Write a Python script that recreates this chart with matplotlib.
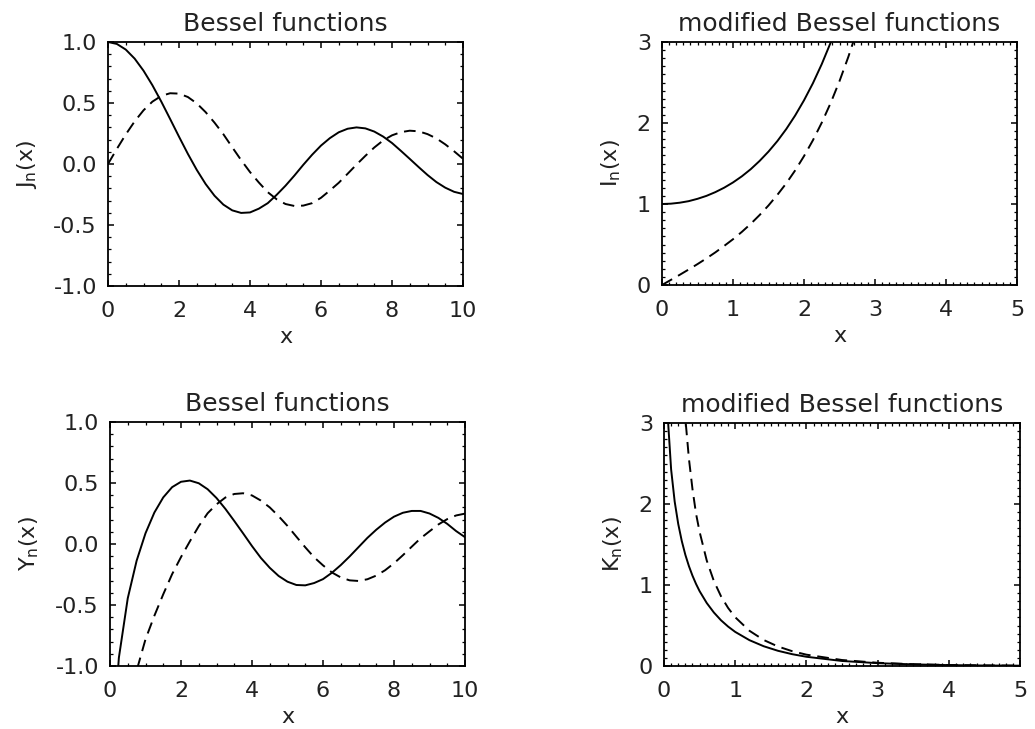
import matplotlib

matplotlib.use("Agg")
import matplotlib.pyplot as plt
from matplotlib.ticker import MultipleLocator

plt.rcParams["font.family"] = ["DejaVu Sans"]
plt.rcParams["mathtext.fontset"] = "dejavusans"

# Bessel J / Y
x_jy = [0.0, 0.25, 0.5, 0.75, 1.0, 1.25, 1.5, 1.75, 2.0, 2.25, 2.5, 2.75, 3.0, 3.25,
        3.5, 3.75, 4.0, 4.25, 4.5, 4.75, 5.0, 5.25, 5.5, 5.75, 6.0, 6.25, 6.5, 6.75,
        7.0, 7.25, 7.5, 7.75, 8.0, 8.25, 8.5, 8.75, 9.0, 9.25, 9.5, 9.75, 10.0]
j0 = [1.0, 0.984, 0.938, 0.864, 0.765, 0.646, 0.512, 0.369, 0.224, 0.083, -0.048,
      -0.164, -0.260, -0.333, -0.380, -0.401, -0.397, -0.366, -0.321, -0.253, -0.178,
      -0.095, -0.007, 0.076, 0.151, 0.212, 0.260, 0.289, 0.300, 0.292, 0.266, 0.225,
      0.172, 0.108, 0.042, -0.025, -0.090, -0.148, -0.194, -0.228, -0.246]
j1 = [0.0, 0.124, 0.242, 0.349, 0.440, 0.511, 0.558, 0.580, 0.577, 0.549, 0.497,
      0.425, 0.339, 0.244, 0.137, 0.032, -0.066, -0.152, -0.231, -0.289, -0.328,
      -0.344, -0.341, -0.321, -0.277, -0.217, -0.154, -0.080, -0.005, 0.067, 0.135,
      0.193, 0.235, 0.261, 0.273, 0.268, 0.245, 0.210, 0.161, 0.104, 0.043]

x_y0 = [0.1] + x_jy[1:]
y0 = [-1.534, -0.932, -0.445, -0.137, 0.088, 0.258, 0.382, 0.466, 0.510, 0.520,
      0.498, 0.449, 0.377, 0.288, 0.189, 0.087, -0.017, -0.114, -0.195, -0.262,
      -0.309, -0.336, -0.339, -0.320, -0.288, -0.236, -0.173, -0.102, -0.026, 0.050,
      0.117, 0.176, 0.224, 0.256, 0.271, 0.271, 0.250, 0.214, 0.165, 0.106, 0.056]
x_y1 = x_jy[2:]
y1 = [-1.471, -1.038, -0.781, -0.588, -0.412, -0.247, -0.107, 0.022, 0.146, 0.252,
      0.325, 0.381, 0.410, 0.416, 0.398, 0.356, 0.300, 0.228, 0.148, 0.060, -0.027,
      -0.109, -0.175, -0.233, -0.274, -0.298, -0.303, -0.289, -0.259, -0.215, -0.158,
      -0.092, -0.022, 0.047, 0.104, 0.160, 0.204, 0.234, 0.249]

# modified Bessel I / K
x_i = [0.0, 0.125, 0.25, 0.375, 0.5, 0.625, 0.75, 0.875, 1.0, 1.125, 1.25, 1.375,
       1.5, 1.625, 1.75, 1.875, 2.0, 2.125, 2.25, 2.375, 2.5, 2.625, 2.75]
i0 = [1.0, 1.004, 1.016, 1.035, 1.064, 1.100, 1.146, 1.201, 1.266, 1.342, 1.430,
      1.532, 1.647, 1.777, 1.925, 2.092, 2.280, 2.490, 2.727, 2.992, 3.290, 3.623, 3.99]
i1 = [0.0, 0.063, 0.126, 0.191, 0.258, 0.328, 0.402, 0.482, 0.565, 0.656, 0.755,
      0.864, 0.982, 1.113, 1.255, 1.414, 1.591, 1.786, 2.004, 2.246, 2.517, 2.818, 3.150]

x_k = [0.05, 0.1, 0.15, 0.2, 0.25, 0.3, 0.35, 0.4, 0.45, 0.5, 0.6, 0.7, 0.8, 0.9,
       1.0, 1.2, 1.4, 1.6, 1.8, 2.0, 2.5, 3.0, 3.5, 4.0, 4.5, 5.0]
k0 = [3.114, 2.427, 2.030, 1.753, 1.542, 1.372, 1.233, 1.115, 1.013, 0.924, 0.778,
      0.661, 0.565, 0.487, 0.421, 0.319, 0.244, 0.188, 0.146, 0.114, 0.062, 0.035,
      0.020, 0.011, 0.006, 0.004]
k1 = [19.91, 9.854, 6.477, 4.776, 3.747, 3.056, 2.559, 2.184, 1.880, 1.656, 1.303,
      1.050, 0.862, 0.717, 0.602, 0.435, 0.321, 0.241, 0.183, 0.140, 0.074, 0.040,
      0.022, 0.012, 0.007, 0.004]

W, H = 1035, 729
fig = plt.figure(figsize=(W / 100, H / 100), dpi=100)

txt = "#222222"


def panel(box, xs, ya, yb, xlim, ylim, xmaj, xmin, ymaj, ymin, ylab, title, yfmt):
    l, t, r, b = box
    ax = fig.add_axes([l / W, 1 - b / H, (r - l) / W, (b - t) / H])
    ax.plot(xs[0], ya, color="black", lw=1.4)
    ax.plot(xs[1], yb, color="black", lw=1.4, linestyle=(0, (6, 3.5)))
    ax.set_xlim(*xlim)
    ax.set_ylim(*ylim)
    ax.xaxis.set_major_locator(MultipleLocator(xmaj))
    ax.xaxis.set_minor_locator(MultipleLocator(xmin))
    ax.yaxis.set_major_locator(MultipleLocator(ymaj))
    ax.yaxis.set_minor_locator(MultipleLocator(ymin))
    ax.yaxis.set_major_formatter(yfmt)
    ax.tick_params(which="both", direction="in", top=True, right=True,
                   colors="black", labelcolor=txt, labelsize=16)
    ax.tick_params(axis="x", which="major", pad=11)
    ax.tick_params(axis="y", which="major", pad=8)
    ax.tick_params(which="major", length=4.5, width=1.1)
    ax.tick_params(which="minor", length=2.2, width=0.9)
    for s in ax.spines.values():
        s.set_linewidth(1.3)
    ax.set_xlabel("x", fontsize=16, color=txt, labelpad=4)
    ax.set_ylabel(ylab, fontsize=16, color=txt, labelpad=10)
    ax.set_title(title, fontsize=18, color=txt, pad=8)
    return ax


fmt1 = lambda v, p: ("-" if v < -1e-9 else "") + f"{abs(v):.1f}"
fmt0 = lambda v, p: f"{v:.0f}"

panel((108, 42, 463, 286), (x_jy, x_jy), j0, j1, (0, 10), (-1, 1), 2, 0.5, 0.5, 0.1,
      r"J$_\mathregular{n}$(x)", "Bessel functions", fmt1)
panel((662, 42, 1017, 285), (x_i, x_i), i0, i1, (0, 5), (0, 3), 1, 0.1, 1, 0.1,
      r"I$_\mathregular{n}$(x)", "modified Bessel functions", fmt0)
panel((110, 422, 465, 666), (x_y0, x_y1), y0, y1, (0, 10), (-1, 1), 2, 0.5, 0.5, 0.1,
      r"Y$_\mathregular{n}$(x)", "Bessel functions", fmt1)
panel((664, 423, 1020, 666), (x_k, x_k), k0, k1, (0, 5), (0, 3), 1, 0.1, 1, 0.1,
      r"K$_\mathregular{n}$(x)", "modified Bessel functions", fmt0)

fig.savefig("out.png", dpi=100)
